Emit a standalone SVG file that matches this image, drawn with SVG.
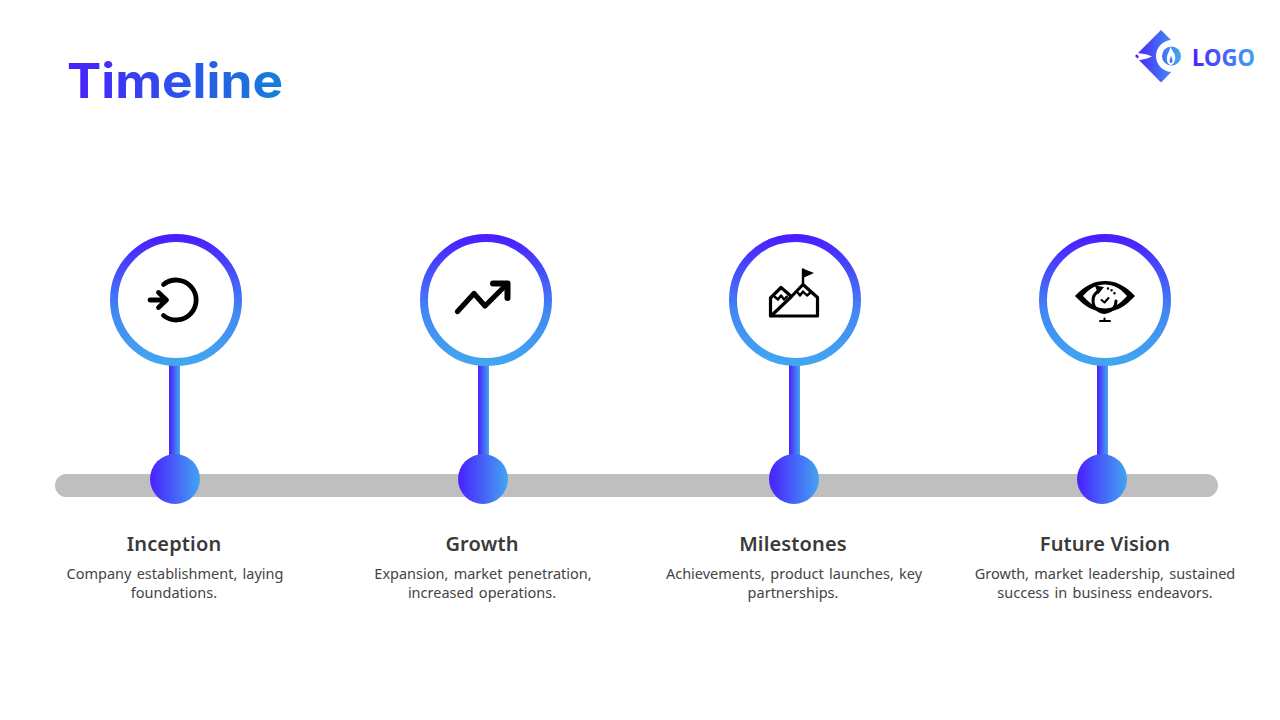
<svg xmlns="http://www.w3.org/2000/svg" width="1280" height="720" viewBox="0 0 1280 720">
<style>
.ring{fill:#fff;stroke:url(#gv);stroke-width:8}
.ic{fill:none;stroke:#000;stroke-linecap:round;stroke-linejoin:round}
.h{font-family:"Noto Sans","Liberation Sans",sans-serif;font-size:20px;font-weight:600;fill:#3a3a3a;text-anchor:middle;letter-spacing:.15px}
.d{font-family:"Noto Sans","Liberation Sans",sans-serif;font-size:14.5px;fill:#444;text-anchor:middle;word-spacing:1.5px}
</style>
<defs>
<linearGradient id="gv" x1="0" y1="0" x2="0" y2="1"><stop offset="0" stop-color="#4a1fff"/><stop offset="0.6" stop-color="#4288f4"/><stop offset="1" stop-color="#42a5f0"/></linearGradient>
<linearGradient id="gh" x1="0" y1="0" x2="1" y2="0"><stop offset="0" stop-color="#4a1fff"/><stop offset="1" stop-color="#42a5f0"/></linearGradient>
<linearGradient id="gt" gradientUnits="userSpaceOnUse" x1="68" y1="0" x2="282" y2="0"><stop offset="0" stop-color="#4a1fff"/><stop offset="1" stop-color="#1480d8"/></linearGradient>
<linearGradient id="gl" gradientUnits="userSpaceOnUse" x1="1192" y1="0" x2="1255" y2="0"><stop offset="0" stop-color="#4a1fff"/><stop offset="1" stop-color="#42a5f0"/></linearGradient>
<linearGradient id="gd" gradientUnits="userSpaceOnUse" x1="1135" y1="0" x2="1180" y2="0"><stop offset="0" stop-color="#4a1fff"/><stop offset="1" stop-color="#42a5f0"/></linearGradient>
</defs>
<rect width="1280" height="720" fill="#fff"/>
<text id="title" x="67" y="98" font-family="Inter,'Liberation Sans',sans-serif" font-size="48" font-weight="700" fill="url(#gt)" textLength="216" lengthAdjust="spacingAndGlyphs">Timeline</text>
<g id="logo">
<path d="M1161 30L1187 56L1161 82.500L1135 56Z" fill="url(#gd)"/>
<path d="M1135 52.500L1147 54.500L1152 56.500L1147 58.500L1136 61L1139 56.500Z" fill="#fff"/>
<circle cx="1172" cy="56" r="16" fill="#fff"/>
<circle cx="1171.500" cy="56" r="9.500" fill="url(#gd)"/>
<path d="M1170.500 46.500C1171.500 50.500 1175.500 53 1175.300 58C1175 62.500 1172.500 65 1170.800 65C1168.500 65 1166.700 62 1166.800 58.500C1167 53.500 1170 51 1170.500 46.500Z" fill="#fff"/>
<path d="M1171 55.500C1171.800 58 1172.800 59 1172.500 61C1172.200 62.500 1171.500 63 1170.900 63C1170 63 1169.400 62 1169.500 60.800C1169.700 58.800 1170.800 57.500 1171 55.500Z" fill="#4a78f6"/>
<text x="1192" y="66" font-family="'Noto Sans','Liberation Sans',sans-serif" font-size="24" font-weight="700" fill="url(#gl)" textLength="63" lengthAdjust="spacingAndGlyphs">LOGO</text>
</g>
<g id="connectors">
<rect x="55" y="474" width="1163" height="23" rx="11.500" fill="#bfbfbf"/>
<rect x="169" y="364" width="11" height="100" fill="url(#gh)"/>
<rect x="478" y="364" width="11" height="100" fill="url(#gh)"/>
<rect x="789" y="364" width="11" height="100" fill="url(#gh)"/>
<rect x="1097" y="364" width="11" height="100" fill="url(#gh)"/>
</g>
<g id="node-inception">
<circle class="ring" cx="176" cy="300" r="62"/>
<path class="ic" stroke-width="4.800" d="M163.500 284.500A20 20 0 1 1 163.500 315.500"/>
<path class="ic" stroke-width="4.800" d="M150 300H166M158.500 292.500L166.500 300L158.500 307.500"/>
<circle cx="175" cy="479" r="25" fill="url(#gh)"/>
<text class="h" x="174" y="551">Inception</text>
<text class="d" x="175" y="579">Company establishment, laying</text>
<text class="d" x="174" y="598">foundations.</text>
</g>
<g id="node-growth">
<circle class="ring" cx="486" cy="300" r="62"/>
<path class="ic" stroke-width="5.200" d="M457.500 311.500L474 293.500L485 306L507 284"/>
<path class="ic" stroke-width="6" d="M493 283.500H507.500V298"/>
<circle cx="483" cy="479" r="25" fill="url(#gh)"/>
<text class="h" x="482" y="551">Growth</text>
<text class="d" x="483" y="579">Expansion, market penetration,</text>
<text class="d" x="482" y="598">increased operations.</text>
</g>
<g id="node-milestones">
<circle class="ring" cx="795" cy="300" r="62"/>
<path class="ic" stroke-width="3.200" d="M770.500 316V298L781 287.500L791.500 296.500M770.500 316H817.500V297.500L803 284.500L791.500 296.500L771 316"/>
<path class="ic" stroke-width="2.400" d="M775 297L778 299.500L781 295.500L784 299.500L787 296.500M798 293L800 295.500L803 291.500L807 295.500L810 293M803 284V269.500"/>
<path d="M804 269L814 273L804 277.500Z" fill="#000"/>
<circle cx="794" cy="479" r="25" fill="url(#gh)"/>
<text class="h" x="793" y="551">Milestones</text>
<text class="d" x="794" y="579">Achievements, product launches, key</text>
<text class="d" x="793" y="598">partnerships.</text>
</g>
<g id="node-future-vision">
<circle class="ring" cx="1105" cy="300" r="62"/>
<path fill="#000" fill-rule="evenodd" d="M1075 296C1085 285 1095 281 1105 281C1115 281 1125 285 1135 296C1125 307 1115 312 1105 312C1095 312 1085 307 1075 296ZM1083 296C1090 304 1097 308.500 1105 308.500C1113 308.500 1120 304 1127 296C1120 288 1113 284.500 1105 284.500C1097 284.500 1090 288 1083 296Z"/>
<path class="ic" stroke-width="3" d="M1098.500 291A11.500 11.500 0 1 0 1116 301"/>
<path d="M1095 285.500L1104 287L1098 294.500Z" fill="#000"/>
<path class="ic" stroke-width="2" d="M1101.500 300L1104.500 302.500L1108.500 298"/>
<path class="ic" stroke-width="2.500" stroke-dasharray="0 4" d="M1108 288.500A13 13 0 0 1 1116 296"/>
<path class="ic" stroke-width="2" d="M1100 321H1110M1104.500 318.500V321"/>
<circle cx="1102" cy="479" r="25" fill="url(#gh)"/>
<text class="h" x="1105" y="551">Future Vision</text>
<text class="d" x="1105" y="579">Growth, market leadership, sustained</text>
<text class="d" x="1105" y="598">success in business endeavors.</text>
</g>
</svg>
